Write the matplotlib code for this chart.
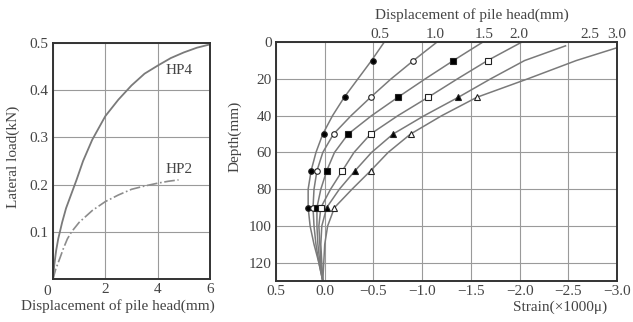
import matplotlib.pyplot as plt

plt.rcParams['font.family'] = ['Liberation Serif', 'DejaVu Serif']

# ---- left panel: load vs head displacement
hp4_disp = [0.0, 0.05, 0.12, 0.2, 0.35, 0.5, 0.7, 0.9, 1.15, 1.5, 2.0, 2.5, 3.0, 3.5, 4.0, 4.5, 5.0, 5.5, 6.0]
hp4_load = [0.0, 0.03, 0.06, 0.085, 0.12, 0.15, 0.18, 0.21, 0.25, 0.295, 0.345, 0.38, 0.41, 0.435, 0.452, 0.468, 0.48, 0.49, 0.497]
hp2_disp = [0.0, 0.1, 0.27, 0.4, 0.55, 0.71, 1.0, 1.5, 2.0, 2.5, 3.0, 3.5, 4.0, 4.4, 4.8]
hp2_load = [0.0, 0.02, 0.045, 0.065, 0.085, 0.10, 0.12, 0.145, 0.164, 0.178, 0.19, 0.197, 0.203, 0.207, 0.21]

# ---- right panel: strain profiles along depth, one per load step
depth_a = [0, 10, 20, 30, 40, 50, 60, 70, 80, 90, 100, 110, 120, 130]
depth_b = [2, 10, 20, 30, 40, 50, 60, 70, 80, 90, 100, 110, 120, 130]
depth_c = [3, 10, 20, 30, 40, 50, 60, 70, 80, 90, 100, 110, 120, 130]
strain_1 = [-0.61, -0.48, -0.34, -0.20, -0.08, 0.02, 0.09, 0.14, 0.17, 0.17, 0.15, 0.11, 0.06, 0.02]
strain_2 = [-1.15, -0.91, -0.68, -0.47, -0.27, -0.09, 0.02, 0.08, 0.11, 0.12, 0.11, 0.09, 0.06, 0.02]
strain_3 = [-1.62, -1.32, -1.03, -0.75, -0.48, -0.24, -0.10, -0.02, 0.04, 0.08, 0.08, 0.07, 0.05, 0.02]
strain_4 = [-2.02, -1.67, -1.36, -1.06, -0.75, -0.47, -0.30, -0.18, -0.06, 0.04, 0.06, 0.05, 0.04, 0.02]
strain_5 = [-2.47, -2.05, -1.70, -1.37, -1.02, -0.70, -0.48, -0.31, -0.15, -0.02, 0.03, 0.04, 0.03, 0.02]
strain_6 = [-3.00, -2.58, -2.08, -1.56, -1.20, -0.88, -0.65, -0.47, -0.28, -0.10, -0.03, 0.00, 0.01, 0.02]

# measured gauge points
gauge_depth = [10, 30, 50, 70, 90]
meas_1 = [-0.50, -0.21, 0.01, 0.14, 0.17]
meas_2 = [-0.91, -0.47, -0.09, 0.08, 0.12]
meas_3 = [-1.32, -0.75, -0.24, -0.02, 0.08]
meas_4 = [-1.67, -1.06, -0.47, -0.18, 0.04]
meas_5 = [None, -1.37, -0.70, -0.31, -0.02]
meas_6 = [None, -1.56, -0.88, -0.47, -0.10]

head_disp = ['0.5', '1.0', '1.5', '2.0', '2.5', '3.0']
head_disp_pos = [-0.57, -1.13, -1.64, -1.99, -2.72, -3.0]

line_c = '#7a7a7a'
frame_c = '#333333'
grid_c = '#9a9a9a'
txt_c = '#444444'
fs = 11

fig = plt.figure(figsize=(6.33, 3.22), dpi=100)

# left
ax1 = fig.add_axes([0.0837, 0.1335, 0.248, 0.733])
ax1.plot(hp4_disp, hp4_load, color=line_c, lw=1.3)
ax1.plot(hp2_disp, hp2_load, color='#8c8c8c', lw=1.2, ls='-.')
ax1.set_xlim(0, 6)
ax1.set_ylim(0, 0.5)
ax1.set_xticks([0, 2, 4, 6])
ax1.set_xticklabels(['', '2', '4', '6'])
ax1.set_yticks([0.1, 0.2, 0.3, 0.4, 0.5])
ax1.grid(True, color=grid_c, lw=0.8)
ax1.tick_params(length=0, labelsize=fs, pad=3, colors=txt_c)
for s in ax1.spines.values():
    s.set_color(frame_c)
    s.set_linewidth(1.4)
ax1.text(4.3, 0.435, 'HP4', fontsize=fs, color=txt_c)
ax1.text(4.3, 0.225, 'HP2', fontsize=fs, color=txt_c)
ax1.text(-0.22, -0.012, '0', fontsize=fs, color=txt_c, ha='center', va='top')
fig.text(13 / 633, 1 - 157 / 322, 'Lateral load(kN)', rotation=90, fontsize=fs,
         color=txt_c, ha='center', va='center')
fig.text(118 / 633, 1 - 306 / 322, 'Displacement of pile head(mm)', fontsize=fs,
         color=txt_c, ha='center', va='center')

# right
ax2 = fig.add_axes([0.436, 0.127, 0.539, 0.742])
curves = [strain_1, strain_2, strain_3, strain_4, strain_5, strain_6]
depths = [depth_a, depth_a, depth_a, depth_a, depth_b, depth_c]
meas = [meas_1, meas_2, meas_3, meas_4, meas_5, meas_6]
marks = [('o', 'k'), ('o', 'white'), ('s', 'k'), ('s', 'white'), ('^', 'k'), ('^', 'white')]
for st, dp, ms, (m, fc) in zip(curves, depths, meas, marks):
    ax2.plot(st, dp, color=line_c, lw=1.1)
    xs = [v for v in ms if v is not None]
    ys = [d for d, v in zip(gauge_depth, ms) if v is not None]
    ax2.plot(xs, ys, ls='none', marker=m, ms=4, mfc=fc, mec='#222222', mew=0.8)

ax2.set_xlim(0.5, -3.0)
ax2.set_ylim(130, 0)
ax2.set_xticks([0.5, 0.0, -0.5, -1.0, -1.5, -2.0, -2.5, -3.0])
ax2.set_xticklabels(['0.5', '0.0', '\u22120.5', '\u22121.0', '\u22121.5', '\u22122.0', '\u22122.5', '\u22123.0'])
ax2.set_yticks([0, 20, 40, 60, 80, 100, 120])
ax2.grid(True, color=grid_c, lw=0.8)
ax2.tick_params(length=0, labelsize=fs, pad=3, colors=txt_c)
for s in ax2.spines.values():
    s.set_color(frame_c)
    s.set_linewidth(1.4)
fig.text(235 / 633, 1 - 136 / 322, 'Depth(mm)', rotation=90, fontsize=fs,
         color=txt_c, ha='center', va='center')
fig.text(607 / 633, 1 - 307 / 322, 'Strain(\u00d71000\u03bc)', fontsize=fs,
         color=txt_c, ha='right', va='center')

top = ax2.secondary_xaxis('top')
top.set_xticks(head_disp_pos)
top.set_xticklabels(head_disp)
top.tick_params(length=0, labelsize=fs, pad=1, colors=txt_c)
top.spines['top'].set_visible(False)
fig.text(472 / 633, 1 - 15 / 322, 'Displacement of pile head(mm)', fontsize=fs,
         color=txt_c, ha='center', va='center')

fig.savefig('out.png', dpi=100, facecolor='white')
